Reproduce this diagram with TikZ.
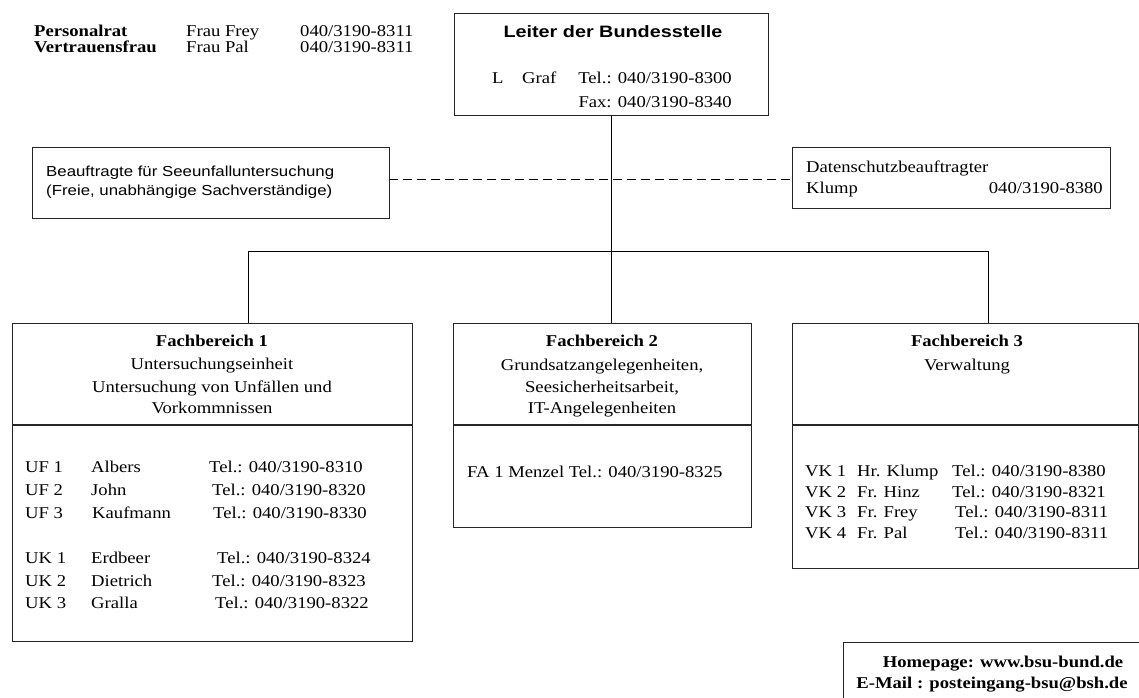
\documentclass[tikz,border=0pt]{standalone}
\usepackage{fontspec}
\setmainfont{Liberation Serif}[FakeStretch=1.13]
\newfontfamily\sansf{Liberation Sans}[FakeStretch=1.16]
\newfontfamily\titlef{Liberation Sans}[FakeStretch=1.2]
\begin{document}
\begin{tikzpicture}[x=1pt,y=-1pt,
  box/.style={draw=black!85, line width=1pt, anchor=north west, inner sep=0pt, outer sep=0pt},
  txt/.style={anchor=base west, inner sep=0pt, font=\fontsize{16.5}{19}\selectfont},
  ctxt/.style={anchor=base, inner sep=0pt, font=\fontsize{16.5}{19}\selectfont},
  rtxt/.style={anchor=base east, inner sep=0pt, font=\fontsize{16.5}{19}\selectfont},
  stxt/.style={anchor=base west, inner sep=0pt, font=\sansf\fontsize{14.5}{17}\selectfont},
  conn/.style={line width=1pt, black},
  dashconn/.style={line width=1pt, black, dash pattern=on 9pt off 5pt},
  divider/.style={line width=2pt, black!85}]
\useasboundingbox (0,0) rectangle (1139,697);

% boxes
\node[box, minimum width=314pt, minimum height=102pt] (top) at (454,13) {};
\node[box, minimum width=357pt, minimum height=71pt] (lbox) at (32,147) {};
\node[box, minimum width=318pt, minimum height=61pt] (rbox) at (792,147) {};
\node[box, minimum width=400pt, minimum height=318pt] (fb1) at (12,323) {};
\node[box, minimum width=298pt, minimum height=204pt] (fb2) at (453,323) {};
\node[box, minimum width=346pt, minimum height=245pt] (fb3) at (792,323) {};
\node[box, minimum width=320pt, minimum height=80pt] (hbox) at (843,642) {};

% dividers
\draw[divider] (fb1.west |- 0,425) -- (fb1.east |- 0,425);
\draw[divider] (fb2.west |- 0,425) -- (fb2.east |- 0,425);
\draw[divider] (fb3.west |- 0,425) -- (fb3.east |- 0,425);

% connectors
\coordinate (dashy) at (618,179);
\coordinate (bus1) at (248,251);
\coordinate (bus3) at (988,251);
\draw[conn] (top.south) -- (top.south |- fb2.north);
\draw[conn] (bus1) -- (bus3);
\draw[conn] (bus1) -- (bus1 |- fb1.north);
\draw[conn] (bus3) -- (bus3 |- fb3.north);
\draw[dashconn] (lbox.east |- dashy) -- (rbox.west |- dashy);

% top-left
\node[txt] (pr1) at (34,36) {\textbf{Personalrat}};
\node[txt] (pr2) at (186,36) {Frau Frey};
\node[txt] (pr3) at (300,36) {040/3190-8311};
\node[txt] (vf1) at (34,52) {\textbf{Vertrauensfrau}};
\node[txt] (vf2) at (186,52) {Frau Pal};
\node[txt] (vf3) at (300,52) {040/3190-8311};

% top box
\node[anchor=base, inner sep=0pt, font=\titlef\bfseries\fontsize{16.5}{19}\selectfont] (ttl) at (613,37) {Leiter der Bundesstelle};
\node[txt] (tl) at (492,83) {L};
\node[txt] (tg) at (522,83) {Graf};
\node[rtxt] (ttel) at (732,83) {Tel.: 040/3190-8300};
\node[rtxt] (tfax) at (732,107) {Fax: 040/3190-8340};

% left box
\node[stxt] (lb1) at (46,176) {Beauftragte für Seeunfalluntersuchung};
\node[stxt] (lb2) at (46,195) {(Freie, unabhängige Sachverständige)};

% right box
\node[txt] (rb1) at (806,172) {Datenschutzbeauftragter};
\node[txt] (rb2) at (806,193) {Klump};
\node[rtxt] (rb3) at (1103,193) {040/3190-8380};

% FB1
\node[ctxt] (f1a) at (212,346) {\textbf{Fachbereich 1}};
\node[ctxt] (f1b) at (212,369) {Untersuchungseinheit};
\node[ctxt] (f1c) at (212,392) {Untersuchung von Unfällen und};
\node[ctxt] (f1d) at (212,413) {Vorkommnissen};
\node[txt] (u1a) at (25,472) {UF 1};
\node[txt] (u1b) at (91,472) {Albers};
\node[txt] (u1c) at (209,472) {Tel.: 040/3190-8310};
\node[txt] (u2a) at (25,495) {UF 2};
\node[txt] (u2b) at (91,495) {John};
\node[txt] (u2c) at (212,495) {Tel.: 040/3190-8320};
\node[txt] (u3a) at (25,518) {UF 3};
\node[txt] (u3b) at (92,518) {Kaufmann};
\node[txt] (u3c) at (213,518) {Tel.: 040/3190-8330};
\node[txt] (k1a) at (25,563) {UK 1};
\node[txt] (k1b) at (91,563) {Erdbeer};
\node[txt] (k1c) at (217,563) {Tel.: 040/3190-8324};
\node[txt] (k2a) at (25,586) {UK 2};
\node[txt] (k2b) at (91,586) {Dietrich};
\node[txt] (k2c) at (212,586) {Tel.: 040/3190-8323};
\node[txt] (k3a) at (25,608) {UK 3};
\node[txt] (k3b) at (91,608) {Gralla};
\node[txt] (k3c) at (215,608) {Tel.: 040/3190-8322};

% FB2
\node[ctxt] (f2a) at (602,346) {\textbf{Fachbereich 2}};
\node[ctxt] (f2b) at (602,370) {Grundsatzangelegenheiten,};
\node[ctxt] (f2c) at (602,392) {Seesicherheitsarbeit,};
\node[ctxt] (f2d) at (602,413) {IT-Angelegenheiten};
\node[txt] (f2e) at (467,477) {FA 1 Menzel Tel.: 040/3190-8325};

% FB3
\node[ctxt] (f3a) at (967,346) {\textbf{Fachbereich 3}};
\node[ctxt] (f3b) at (967,370) {Verwaltung};
\node[txt] (v1a) at (805,476) {VK 1};
\node[txt] (v1b) at (857,476) {Hr. Klump};
\node[txt] (v1c) at (952,476) {Tel.: 040/3190-8380};
\node[txt] (v2a) at (805,497) {VK 2};
\node[txt] (v2b) at (857,497) {Fr. Hinz};
\node[txt] (v2c) at (952,497) {Tel.: 040/3190-8321};
\node[txt] (v3a) at (805,517) {VK 3};
\node[txt] (v3b) at (857,517) {Fr. Frey};
\node[txt] (v3c) at (955,517) {Tel.: 040/3190-8311};
\node[txt] (v4a) at (805,538) {VK 4};
\node[txt] (v4b) at (857,538) {Fr. Pal};
\node[txt] (v4c) at (955,538) {Tel.: 040/3190-8311};

% homepage box
\node[ctxt] (hp1) at (1003,667) {\textbf{Homepage: www.bsu-bund.de}};
\node[ctxt] (hp2) at (992,688) {\textbf{E-Mail : posteingang-bsu@bsh.de}};
\end{tikzpicture}
\end{document}
